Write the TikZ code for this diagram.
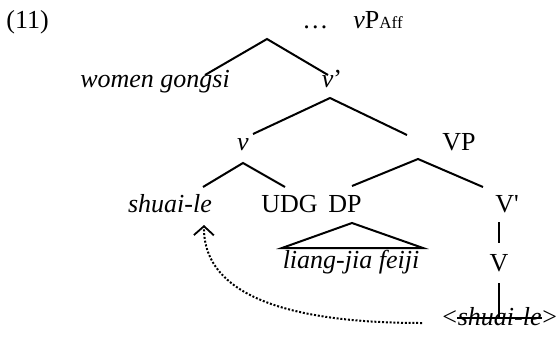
\documentclass[tikz,border=0pt]{standalone}
\usepackage{fontspec}
\setmainfont{Liberation Serif}
\newfontfamily\rawserif{Liberation Serif}
\usetikzlibrary{arrows.meta,calc}
\begin{document}
\begin{tikzpicture}[x=0.5pt,y=-0.5pt,
  font=\fontsize{13}{15}\selectfont,
  lbl/.style={inner sep=0pt, anchor=base},
  branch/.style={line width=1pt},
  movearrow/.style={line width=1pt, dash pattern=on 1pt off 0.9pt,
    -{Straight Barb[length=4.5pt,width=10pt,line width=0.9pt]}}]
\useasboundingbox (0,0) rectangle (556,338);
% labels
\node[lbl, anchor=base west] (ex) at (6,28) {(11)};
\node[lbl, anchor=base west] (dots) at (302,28) {…};
\node[lbl, anchor=base west] (vpaff) at (353,28) {\textit{v}P{\fontsize{8.5}{9}\selectfont Aff}};
\node[lbl] (women) at (155,87) {\textit{women gongsi}};
\node[lbl] (vbar) at (332,87) {\textit{v}’};
\node[lbl] (v) at (243,150) {\textit{v}};
\node[lbl] (VP) at (459,150) {VP};
\node[lbl] (shuai) at (170,212) {\textit{shuai-le}};
\node[lbl] (UDG) at (289.5,212) {UDG};
\node[lbl] (DP) at (345,212) {DP};
\node[lbl] (Vbar) at (507,212) {\rawserif V'};
\node[lbl] (liang) at (351,268) {\textit{liang-jia feiji}};
\node[lbl] (V) at (499,271) {V};
\node[lbl, anchor=base west] (lt) at (442,325) {<};
\node[lbl, anchor=base west] (old) at (lt.base east) {\textit{shuai-le}};
\node[lbl, anchor=base west] (gt) at (old.base east) {>};
% branch points
\coordinate (a1) at (267,39);  \coordinate (a1l) at (205,75);  \coordinate (a1r) at (328,75);
\coordinate (a2) at (330,98);  \coordinate (a2l) at (253,134); \coordinate (a2r) at (407,135);
\coordinate (a3) at (243,163); \coordinate (a3l) at (203,187); \coordinate (a3r) at (285,187);
\coordinate (a4) at (418,159); \coordinate (a4l) at (352,186); \coordinate (a4r) at (483,187);
\coordinate (t1) at (352,223); \coordinate (t2) at (282,248);  \coordinate (t3) at (423,248);
\coordinate (u1) at (499,222); \coordinate (u2) at (499,243);
\coordinate (w1) at (499,283); \coordinate (w2) at (499,318);
\coordinate (arrS) at (422,323); \coordinate (arrE) at (204,225);
% tree
\draw[branch] (a1l) -- (a1) -- (a1r);
\draw[branch] (a2l) -- (a2) -- (a2r);
\draw[branch] (a3l) -- (a3) -- (a3r);
\draw[branch] (a4l) -- (a4) -- (a4r);
\draw[branch] (t1) -- (t2) -- (t3) -- cycle;
\draw[branch] (u1) -- (u2);
\draw[branch] (w1) -- (w2);
% strike-through
\draw[branch] ($(old.base west)+(0,-7)$) -- ($(old.base east)+(0,-7)$);
% movement arrow
\draw[movearrow] (arrS) .. controls (300,323) and (203,300) .. (arrE);
\end{tikzpicture}
\end{document}
